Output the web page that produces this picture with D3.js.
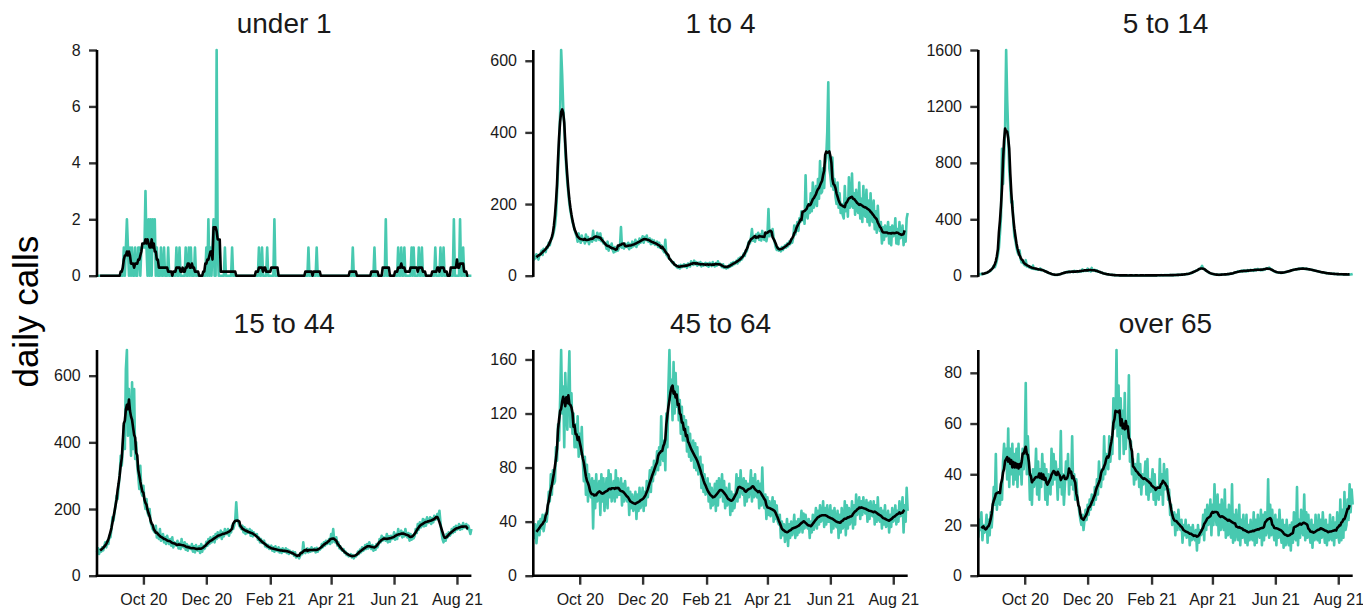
<!DOCTYPE html>
<html><head><meta charset="utf-8">
<script src="https://cdn.jsdelivr.net/npm/d3@7"></script>
<style>
body{margin:0;background:#fff;}
text{font-family:"Liberation Sans", Arial, sans-serif;}
</style>
</head><body>
<svg id="chart" width="1363" height="609"></svg>
<script>
// ---------------- data ----------------
const startDate = "2020-08-17";
const panelTitles = ["under 1", "1 to 4", "5 to 14", "15 to 44", "45 to 64", "over 65"];
const yLabel = "daily calls";
const xTickDates = ["2020-10-01","2020-12-01","2021-02-01","2021-04-01","2021-06-01","2021-08-01"];
const yTicks = [[0,2,4,6,8],[0,200,400,600],[0,400,800,1200,1600],[0,200,400,600],[0,40,80,120,160],[0,20,40,60,80]];

const under1 = [
0,0,0,0,0,0,0, 0,0,0,0,0,0,0, 0,0,0,0,0,0,0, 0,0,0,0,0,1,0,
1,2,1,0,1,0,1, 0,0,1,0,0,1,1, 0,1,1,1,1,3,1, 0,2,0,2,0,2,1,
2,0,1,0,0,0,1, 0,0,1,0,0,0,1, 0,0,0,0,0,0,0, 1,0,0,1,0,0,0,
0,0,1,0,0,1,0, 1,0,0,0,1,0,0, 0,0,0,0,0,0,0, 0,1,0,2,0,1,0,
1,2,0,0,8,1,0, 0,0,0,0,0,1,0, 0,0,0,0,0,1,0, 0,0,0,0,0,0,0,
0,0,0,0,0,0,0, 0,0,0,0,0,0,0, 0,0,0,1,0,0,1, 0,0,0,0,1,0,0,
0,0,0,0,2,0,0, 0,0,0,0,0,0,0, 0,0,0,0,0,0,0, 0,0,0,0,0,0,0,
0,0,0,0,0,0,0, 0,0,1,0,0,0,0, 0,0,0,1,0,0,0, 0,0,0,0,0,0,0,
0,0,0,0,0,0,0, 0,0,0,0,0,0,0, 0,0,0,0,0,0,0, 0,0,0,1,0,0,0,
0,0,0,0,0,0,0, 0,0,0,0,0,0,0, 0,0,0,1,0,0,0, 0,0,0,0,0,0,0,
2,0,0,0,0,0,0, 0,0,0,0,0,1,0, 0,1,0,0,1,0,0, 0,0,0,0,1,0,1,
0,0,0,0,1,0,0, 1,0,0,0,0,0,0, 0,0,0,0,0,0,1, 0,0,0,0,1,0,0,
1,0,0,0,0,0,0, 0,0,0,2,0,0,0, 0,0,2,0,0,1,0, 0,0,0,0,0,0,0
];
const age1to4 = [
42,55,48,60,52,45,58, 62,70,58,75,72,66,80, 78,92,85,100,104,112,125, 140,170,230,300,370,450,630,
560,470,420,350,300,260,230, 200,180,165,150,140,128,118, 110,95,118,100,92,112,98, 102,90,115,96,108,88,100,
104,95,125,100,110,98,120, 112,100,118,96,104,90,92, 88,75,95,70,84,78,90, 72,65,80,68,76,70,78,
80,136,78,84,76,90,82, 80,92,74,88,78,95,82, 86,100,80,95,88,104,92, 98,110,92,108,100,112,96,
95,104,88,100,90,98,86, 88,95,80,92,78,85,75, 70,65,100,58,55,50,48, 45,40,35,38,30,28,25,
22,28,20,30,24,26,32, 25,30,22,34,28,26,40, 35,30,42,32,38,28,36, 30,38,26,34,28,32,36,
28,34,25,36,30,27,38, 30,26,35,28,40,32,34, 28,24,32,22,26,20,24, 22,30,25,35,28,38,32,
36,42,34,48,40,52,45, 50,62,55,70,68,85,95, 90,105,130,98,110,95,115, 105,120,100,115,98,125,108,
100,118,96,112,186,110,120, 115,130,105,95,80,72,78, 70,75,68,80,72,78,85, 78,90,82,95,88,100,92,
105,140,115,130,150,125,160, 150,180,155,175,145,280,170, 160,200,175,230,180,260,190, 210,250,195,270,215,320,230,
235,300,245,310,330,400,540, 300,280,250,330,240,270,220, 200,260,190,230,175,200,170, 160,250,180,215,165,275,190,
200,285,190,230,170,240,185, 175,260,160,215,150,250,170, 165,240,150,210,140,230,160, 150,210,130,180,120,195,140,
125,150,90,135,100,140,110, 120,150,90,135,85,140,110, 115,160,90,130,88,150,105, 110,140,85,120,95,160,175
];
const age5to14 = [
8,10,12,10,14,12,15, 18,20,22,28,30,35,45, 55,70,60,80,110,150,200, 300,420,900,650,850,1050,1600,
1250,1000,750,650,520,530,380, 280,250,200,170,150,180,120, 95,100,85,75,110,65,70, 60,65,55,50,72,48,50,
45,48,42,45,52,38,40, 40,36,30,28,25,20,18, 15,12,10,8,6,5,5, 6,8,10,12,15,18,20,
22,25,28,24,30,26,28, 30,25,35,28,32,26,30, 28,35,30,45,32,38,34, 36,50,34,40,30,55,38,
35,42,32,38,28,30,25, 22,20,18,15,14,12,10, 9,8,7,6,5,5,4, 4,3,3,2,2,2,3,
2,3,2,1,2,3,2, 2,1,2,3,2,2,1, 2,2,3,2,1,2,2, 3,2,2,1,2,3,2,
2,3,2,2,3,2,3, 3,2,4,3,2,3,4, 3,4,3,5,4,3,4, 4,5,4,6,5,6,7,
6,7,8,9,8,10,11, 12,14,16,18,20,24,28, 30,35,38,42,45,48,55, 70,50,48,40,35,30,25,
20,18,15,12,10,9,8, 8,7,6,6,7,8,8, 9,10,8,10,12,11,12, 14,16,18,20,22,25,28,
30,32,28,35,30,38,32, 35,30,40,33,38,42,36, 40,35,45,38,42,48,40, 42,38,45,40,48,44,50,
52,48,58,50,45,40,35, 30,28,25,24,22,22,20, 20,22,21,24,25,28,30, 32,34,36,38,40,42,44,
45,48,46,50,48,52,50, 52,50,48,50,46,48,45, 44,42,40,38,36,35,33, 32,30,28,26,25,24,22,
20,19,18,17,16,15,15, 14,13,13,12,12,11,11, 10,10,11,9,10,9,10, 9,10,8,9,8,10,12
];
const age15to44 = [
70,82,65,78,72,85,76, 88,100,85,105,95,120,115, 140,175,165,190,210,240,230, 270,300,360,330,380,450,380,
620,677,420,560,480,360,580, 380,560,350,400,330,300,260, 330,250,240,270,220,200,230, 190,180,200,160,150,140,135,
130,150,115,125,110,140,105, 110,125,100,115,95,120,105, 95,110,90,115,85,100,92, 90,105,82,98,80,110,88,
85,100,78,95,75,90,82, 80,95,72,88,70,92,78, 75,88,68,95,72,90,80, 85,102,90,110,95,115,100,
105,118,100,125,110,130,115, 120,135,110,130,118,140,125, 125,140,120,135,130,150,140, 150,165,220,170,160,150,145,
140,150,130,145,125,140,128, 130,140,120,135,118,130,122, 120,125,108,115,100,110,98, 98,105,88,95,85,92,80,
82,90,75,85,72,88,76, 74,85,70,80,68,82,72, 72,82,68,78,65,75,70, 66,72,60,70,55,62,58,
52,60,70,65,100,72,68, 75,82,70,80,72,85,74, 76,82,70,84,72,80,78, 82,95,85,100,90,105,95,
98,110,95,125,100,140,105, 100,115,90,100,82,88,78, 75,80,68,72,62,66,58, 60,65,55,62,52,60,58,
62,72,65,78,70,85,75, 78,92,80,95,82,100,88, 80,92,75,88,78,95,85, 95,110,100,120,105,115,108,
105,125,100,118,102,120,110, 112,130,108,125,110,140,120, 125,135,115,130,118,140,122, 115,128,105,125,108,120,112,
120,140,128,155,138,160,145, 150,170,148,168,150,175,158, 160,175,155,172,160,180,168, 170,185,175,195,160,130,110,
100,115,105,125,115,130,120, 125,140,128,145,132,150,138, 140,155,138,150,140,158,145, 145,155,140,150,138,125,140
];
const age45to64 = [
35,28,38,24,32,40,30, 42,35,45,33,38,46,40, 48,62,55,75,60,78,68, 70,95,85,112,100,130,167,
120,140,95,150,125,108,140, 166,110,135,105,120,95,112, 95,118,88,105,90,110,85, 70,88,60,82,55,75,62,
58,72,35,70,50,75,55, 62,70,45,75,55,72,48, 60,72,50,78,58,75,55, 62,70,55,78,58,72,60,
60,72,52,68,55,70,58, 55,65,45,62,50,60,48, 52,62,42,60,48,65,50, 55,65,48,62,52,70,58,
65,78,62,80,70,85,75, 80,92,78,95,82,118,88, 85,100,78,120,95,140,167, 130,145,115,158,120,150,125,
140,115,130,105,125,100,118, 100,115,92,110,88,105,85, 90,100,80,98,78,95,75, 80,88,65,82,62,75,60,
62,72,55,68,50,65,52, 55,68,48,70,52,72,58, 62,75,55,70,50,65,52, 55,68,45,62,48,60,50,
58,75,55,72,58,78,62, 60,72,52,70,55,68,58, 65,78,55,72,58,75,60, 58,70,50,68,52,80,55,
50,60,42,58,45,55,44, 48,58,40,55,42,52,40, 38,45,28,40,30,38,25, 32,42,22,38,28,40,30,
35,45,28,40,30,42,32, 38,48,32,46,35,45,38, 35,42,28,40,32,45,34, 40,50,35,48,38,52,40,
42,55,36,50,38,52,40, 40,52,32,48,35,50,38, 36,48,28,45,32,50,35, 38,55,30,52,35,50,38,
42,55,35,52,38,60,45, 48,58,42,55,45,58,48, 46,56,40,54,42,55,45, 44,55,38,52,40,58,42,
40,50,35,48,38,52,36, 38,48,32,45,36,50,40, 42,52,38,48,40,55,44, 45,58,32,52,40,65,48
];
const over65 = [
15,22,18,25,14,20,17, 18,24,13,22,16,25,19, 26,35,28,48,26,33,30, 28,36,30,45,52,44,50,
38,58,35,50,40,52,36, 48,38,50,35,52,40,45, 36,50,42,48,76,40,55, 45,30,40,28,42,35,38,
50,32,45,30,42,35,48, 38,44,30,42,28,40,35, 32,50,36,48,38,45,40, 30,42,35,57,32,40,28,
36,45,38,48,32,42,36, 55,34,40,30,38,32,28, 25,22,20,24,18,22,26, 22,28,24,30,26,32,28,
28,35,30,38,32,45,36, 35,42,38,55,40,48,44, 42,55,45,52,48,70,58, 60,89,55,75,46,70,56,
65,48,72,50,58,55,79, 45,53,40,46,36,44,38, 42,48,35,44,32,40,36, 38,45,32,46,30,38,33,
36,42,30,40,28,35,32, 30,46,32,40,28,44,34, 38,42,30,34,24,28,20, 22,25,16,24,18,26,20,
18,22,13,20,16,22,15, 16,20,12,19,14,20,15, 14,18,10,20,13,18,16, 17,24,14,26,18,28,20,
22,30,16,28,20,36,24, 20,32,16,28,18,30,20, 18,34,15,26,16,28,18, 15,36,13,24,14,26,17,
14,28,12,22,15,24,16, 13,24,12,20,14,22,15, 14,25,12,22,13,24,16, 15,26,12,24,14,25,16,
18,38,15,28,16,26,18, 14,24,12,22,15,26,17, 13,22,11,20,12,22,14, 12,20,10,21,13,25,15,
14,35,12,22,15,26,18, 16,32,14,25,15,24,17, 13,22,11,20,14,24,15, 14,24,13,22,15,25,18,
13,22,12,20,14,24,15, 14,23,12,21,15,25,16, 13,30,14,26,15,33,18, 20,30,22,36,25,34,28
];
const seriesList = [under1, age1to4, age5to14, age15to44, age45to64, over65];

// ---------------- layout ----------------
const colX = [97, 533.3, 978.3];
const panelW = 374.4;
const rowTop = [50, 350];
const panelH = 225.7;
const teal = "#48C9B0";

const svg = d3.select("#chart");
const parse = d3.timeParse("%Y-%m-%d");
const t0 = parse(startDate);

function rolling(v) {
  const out = [];
  for (let i = 3; i < v.length - 3; i++) {
    let s = 0;
    for (let k = -3; k <= 3; k++) s += v[i + k];
    out.push({i: i, v: s / 7});
  }
  return out;
}

seriesList.forEach((vals, p) => {
  const col = p % 3, row = Math.floor(p / 3);
  const x0 = colX[col], y0 = rowTop[row];
  const dates = vals.map((_, i) => d3.timeDay.offset(t0, i));
  const x = d3.scaleTime().domain([dates[0], dates[dates.length - 1]]).range([x0, x0 + panelW]);
  const y = d3.scaleLinear().domain([0, d3.max(vals)]).range([y0 + panelH, y0]);
  const g = svg.append("g");

  // title
  g.append("text").attr("x", x0 + panelW / 2).attr("y", y0 - 17)
    .attr("text-anchor", "middle").attr("font-size", "28px").attr("fill", "#1a1a1a")
    .text(panelTitles[p]);

  // daily line
  const line = d3.line().x((d, i) => x(dates[i])).y(d => y(d));
  g.append("path").datum(vals).attr("d", line)
    .attr("fill", "none").attr("stroke", teal).attr("stroke-width", 2.6).attr("stroke-linejoin", "round");

  // rolling average
  const rm = rolling(vals);
  const rline = d3.line().x(d => x(dates[d.i])).y(d => y(d.v));
  g.append("path").datum(rm).attr("d", rline)
    .attr("fill", "none").attr("stroke", "#000").attr("stroke-width", 2.6).attr("stroke-linejoin", "round");

  // y axis
  const ya = d3.axisLeft(y).tickValues(yTicks[p]).tickSize(8).tickPadding(8.3).tickFormat(d3.format("d"));
  const yg = g.append("g").attr("transform", `translate(${x0},0)`).call(ya);
  yg.select(".domain").remove();
  yg.selectAll(".tick line").attr("stroke", "#333").attr("stroke-width", 2.4);
  yg.selectAll(".tick text").attr("font-size", "16px").attr("fill", "#1a1a1a").attr("font-family", "Liberation Sans, Arial, sans-serif");
  g.append("line").attr("x1", x0).attr("x2", x0).attr("y1", y0).attr("y2", y0 + panelH + 1.2)
    .attr("stroke", "#000").attr("stroke-width", 2.6);

  // x axis (bottom row only)
  if (row === 1) {
    const xa = d3.axisBottom(x).tickValues(xTickDates.map(parse)).tickSize(9).tickPadding(8.5)
      .tickFormat(d3.timeFormat("%b %y"));
    const xg = g.append("g").attr("transform", `translate(0,${y0 + panelH})`).call(xa);
    xg.select(".domain").remove();
    xg.selectAll(".tick line").attr("stroke", "#333").attr("stroke-width", 2.4);
    xg.selectAll(".tick text").attr("font-size", "16px").attr("fill", "#1a1a1a").attr("font-family", "Liberation Sans, Arial, sans-serif");
    g.append("line").attr("x1", x0 - 1.2).attr("x2", x0 + panelW).attr("y1", y0 + panelH).attr("y2", y0 + panelH)
      .attr("stroke", "#000").attr("stroke-width", 2.6);
  }
});

// shared y label
svg.append("text").attr("transform", "translate(37.5,311.7) rotate(-90)")
  .attr("text-anchor", "middle").attr("font-size", "35px").attr("fill", "#000")
  .text(yLabel);
</script>
</body></html>
